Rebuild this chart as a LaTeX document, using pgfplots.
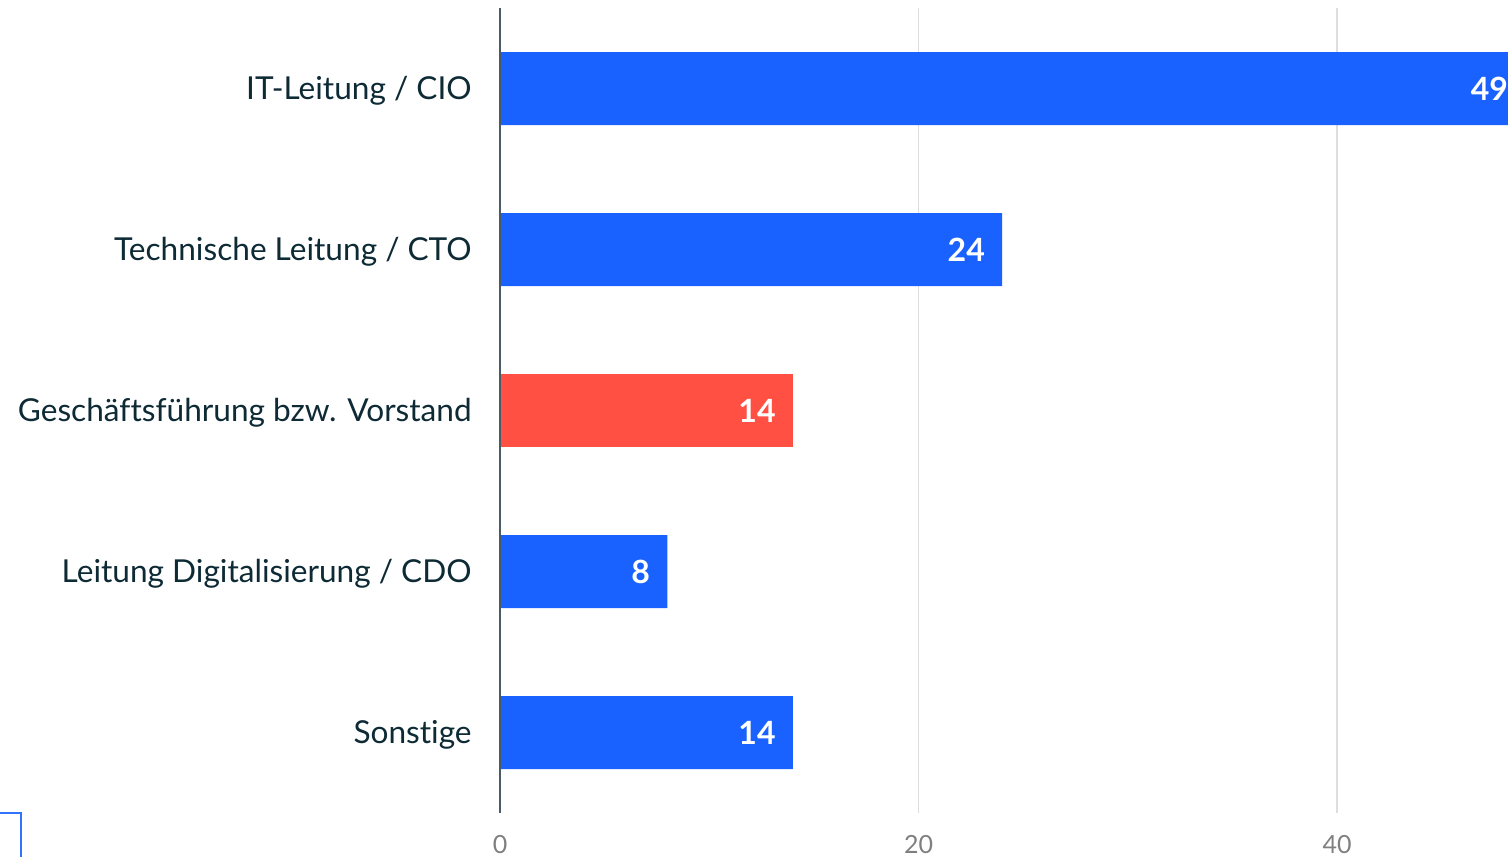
\documentclass[border=0pt]{standalone}
\usepackage{fontspec}
\setmainfont{Lato}[Ligatures={NoCommon,NoContextual}]
\usepackage{pgfplots}
\pgfplotsset{compat=1.18}
\definecolor{barblue}{HTML}{1A62FF}
\definecolor{barred}{HTML}{FF5043}
\definecolor{txtdark}{HTML}{0D2A35}
\definecolor{ticktxt}{HTML}{7F7F7F}
\definecolor{axisdark}{HTML}{4A5A66}
\definecolor{gridc}{HTML}{DEDEDE}
\begin{document}
\begin{tikzpicture}
\useasboundingbox (0,0) rectangle (754pt,428.5pt);
\begin{axis}[
    at={(250pt,22pt)}, anchor=south west,
    scale only axis,
    width=504pt, height=402.5pt,
    clip=false,
    xbar, bar width=36.5pt,
    xmin=0, xmax=48.17,
    ymin=-0.5, ymax=4.5,
    y dir=reverse,
    ytick={0,1,2,3,4},
    yticklabels={IT-Leitung / CIO, Technische Leitung / CTO, Geschäftsführung bzw. Vorstand, Leitung Digitalisierung / CDO, Sonstige},
    xtick={0,20,40},
    major tick length=0pt,
    xmajorgrids, grid style={gridc, line width=0.6pt},
    axis line style={draw=none},
    /pgf/number format/assume math mode=true,
    yticklabel style={anchor=east, inner sep=0pt, xshift=-14pt, yshift=-1pt, font=\fontsize{15.8}{18}\selectfont, text=txtdark},
    xticklabel style={anchor=north, inner sep=0pt, yshift=-11pt, font=\fontsize{12.5}{15}\selectfont, text=ticktxt},
    nodes near coords,
    nodes near coords style={anchor=east, inner sep=0pt, xshift=-8.5pt, text=white, font=\fontsize{16}{19}\selectfont\bfseries},
]
\addplot[fill=barblue, draw=none, bar shift=0pt] coordinates {(49,0) (24,1) (8,3) (14,4)};
\addplot[fill=barred, draw=none, bar shift=0pt] coordinates {(14,2)};
\draw[axisdark, line width=0.8pt] (axis cs:0,-0.5) -- (axis cs:0,4.5);
\end{axis}
\draw[barblue!90, line width=1pt] (0,22pt) -- (10.5pt,22pt) -- (10.5pt,0);
\end{tikzpicture}
\end{document}
